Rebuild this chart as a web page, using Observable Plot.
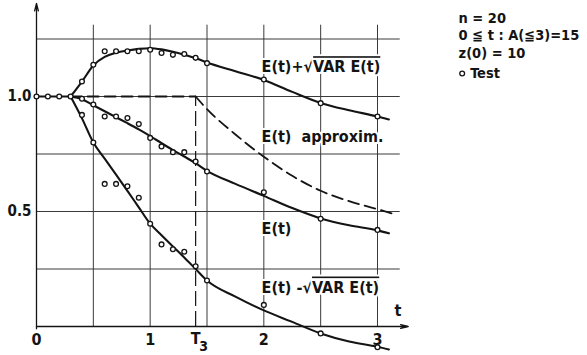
<!DOCTYPE html>
<html><head><meta charset="utf-8">
<script src="https://cdn.jsdelivr.net/npm/d3@7"></script>
<script src="https://cdn.jsdelivr.net/npm/@observablehq/plot@0.6"></script>
<style>
body{margin:0;background:#fff;}
#chart{width:587px;height:355px;overflow:hidden;}
</style></head><body><div id="chart"></div>
<script>
// ---- data ----
const gridX = [0.5, 1, 1.5, 2, 2.5, 3];
const gridY = [0.25, 0.5, 0.75, 1.0, 1.25];
const xTicks = [0, 1, 2, 3];
const xTickLabels = ["0", "1", "2", "3"];
const yTicks = [0.5, 1.0];
const yTickLabels = ["0.5", "1.0"];
const T3 = 1.4;

// common start (before branching)
const startT = [0, 0.1, 0.2, 0.3];
const startY = [1.0, 1.0, 1.0, 1.0];

// fitted curves
const curveT = [0.3,0.4,0.5,0.6,0.7,0.8,0.9,1.0,1.1,1.2,1.3,1.4,1.5,1.75,2.0,2.25,2.5,2.75,3.0,3.1];
const upperCurve = [1.0,1.065,1.135,1.172,1.19,1.2,1.207,1.21,1.205,1.195,1.182,1.167,1.148,1.11,1.072,1.02,0.972,0.94,0.913,0.90];
const meanCurve  = [1.0,0.988,0.962,0.936,0.91,0.884,0.857,0.828,0.797,0.767,0.739,0.71,0.677,0.62,0.568,0.515,0.47,0.44,0.418,0.405];
const lowerCurve = [1.0,0.905,0.80,0.73,0.66,0.59,0.518,0.447,0.397,0.348,0.30,0.25,0.20,0.13,0.07,0.02,-0.03,-0.065,-0.088,-0.10];

// approximation (dashed)
const approxFlatT = [0.3, 1.4];
const approxFlatY = [1.0, 1.0];
const approxT = [1.4,1.5,1.75,2.0,2.25,2.5,2.75,3.0,3.17];
const approxY = [1.0,0.945,0.835,0.738,0.655,0.59,0.545,0.51,0.485];

// test points
const testT = [0.4,0.5,0.6,0.7,0.8,0.9,1.0,1.1,1.2,1.3,1.4,1.5,2.0,2.5,3.0];
const testUpper = [1.065,1.138,1.197,1.197,1.197,1.197,1.203,1.189,1.181,1.185,1.168,1.145,1.074,0.971,0.913];
const testMean  = [0.99,0.965,0.913,0.913,0.906,0.88,0.82,0.783,0.758,0.758,0.717,0.674,0.584,0.468,0.42];
const testLower = [0.92,0.80,0.62,0.62,0.61,0.56,0.447,0.357,0.336,0.325,0.262,0.20,0.094,-0.03,-0.09];

const curveLabels = ["E(t)+√VAR E(t)", "E(t)  approxim.", "E(t)", "E(t) -√VAR E(t)"];
const legendLines = ["n = 20", "0 ≦ t : A(≦3)=15", "z(0) = 10"];
const legendTest = "Test";

// ---- build ----
const rows = (ts, ys) => ts.map((t, i) => ({t, y: ys[i]}));
const font = "'DejaVu Sans Condensed','DejaVu Sans',sans-serif";
const ink = "#141414";

const testPts = [
  ...rows(startT, startY),
  ...rows(testT, testUpper),
  ...rows(testT, testMean),
  ...rows(testT, testLower)
];

const chart = Plot.plot({
  width: 587,
  height: 355,
  style: {background: "#fff", fontFamily: font, overflow: "visible"},
  x: {domain: [0, 3], range: [36, 377], axis: null},
  y: {domain: [0, 1.25], range: [326, 38.5], axis: null},
  marks: [
    Plot.ruleY(gridY, {x1: 0, x2: 3.2, stroke: "#3a3a3a", strokeWidth: 1}),
    Plot.ruleX(gridX, {y1: 0, y2: 1.31, stroke: "#3a3a3a", strokeWidth: 1}),
    // axes with arrows
    Plot.arrow([0], {x1: 0, y1: -0.01, x2: 0, y2: 1.405, stroke: ink, strokeWidth: 1.3, headLength: 9, headAngle: 28}),
    Plot.arrow([0], {x1: 0, y1: 0, x2: 3.27, y2: 0, stroke: ink, strokeWidth: 1.3, headLength: 9, headAngle: 28}),
    // T3 marker
    Plot.ruleX([T3], {y1: 0, y2: 1.0, stroke: ink, strokeWidth: 1.2, strokeDasharray: "15,5"}),
    // approximation
    Plot.line(rows(approxFlatT, approxFlatY), {x: "t", y: "y", stroke: ink, strokeWidth: 1.8, strokeDasharray: "11,6"}),
    Plot.line(rows(approxT, approxY), {x: "t", y: "y", stroke: ink, strokeWidth: 1.8, strokeDasharray: "11,6", curve: "monotone-x"}),
    // curves
    Plot.line(rows(startT, startY), {x: "t", y: "y", stroke: ink, strokeWidth: 2}),
    Plot.line(rows(curveT, upperCurve), {x: "t", y: "y", stroke: ink, strokeWidth: 2.1, curve: "monotone-x"}),
    Plot.line(rows(curveT, meanCurve), {x: "t", y: "y", stroke: ink, strokeWidth: 2.1, curve: "monotone-x"}),
    Plot.line(rows(curveT, lowerCurve), {x: "t", y: "y", stroke: ink, strokeWidth: 2.1, curve: "monotone-x"}),
    // test points
    Plot.dot(testPts, {x: "t", y: "y", r: 2.4, stroke: ink, strokeWidth: 1.3, fill: "#fff"}),
    // curve labels
    Plot.text(curveLabels, {
      x: 1.98, y: [1.128, 0.826, 0.426, 0.17], text: d => d, textAnchor: "start",
      fontSize: 16, fontWeight: "bold", fill: ink, stroke: "#fff", strokeWidth: 4
    }),
    // tick labels
    Plot.text(xTicks, {x: d => d, y: 0, dy: 13, text: (d, i) => xTickLabels[i], fontSize: 16, fontWeight: "bold", fill: ink}),
    Plot.text(yTicks, {x: 0, y: d => d, dx: -5, text: (d, i) => yTickLabels[i], textAnchor: "end", fontSize: 15, fontWeight: "bold", fill: ink}),
    Plot.text([T3], {x: d => d, y: 0, dy: 12, text: () => "T", fontSize: 16, fontWeight: "bold", fill: ink}),
    Plot.text([T3], {x: d => d, y: 0, dy: 20, dx: 8, text: () => "3", fontSize: 14, fontWeight: "bold", fill: ink}),
    Plot.text(["t"], {x: 3.18, y: 0.07, text: d => d, fontSize: 16, fontWeight: "bold", fill: ink}),
    // legend
    Plot.text(legendLines, {x: 3.713, y: [1.34, 1.265, 1.186], text: d => d, textAnchor: "start", fontSize: 14.5, fill: ink, fontWeight: "bold"}),
    Plot.dot([legendTest], {x: 3.745, y: 1.10, r: 2.4, stroke: ink, strokeWidth: 1.3, fill: "#fff"}),
    Plot.text([legendTest], {x: 3.815, y: 1.10, text: d => d, textAnchor: "start", fontSize: 14.5, fill: ink, fontWeight: "bold"})
  ]
});

// overline over the radicand "VAR E(t)"
chart.querySelectorAll("text").forEach(el => {
  const s = el.textContent;
  const k = s.indexOf("√");
  if (k >= 0) {
    el.textContent = "";
    el.appendChild(document.createTextNode(s.slice(0, k + 1)));
    const ts = document.createElementNS("http://www.w3.org/2000/svg", "tspan");
    ts.setAttribute("style", "text-decoration: overline");
    ts.textContent = s.slice(k + 1);
    el.appendChild(ts);
  }
});

document.getElementById("chart").appendChild(chart);
</script></body></html>
